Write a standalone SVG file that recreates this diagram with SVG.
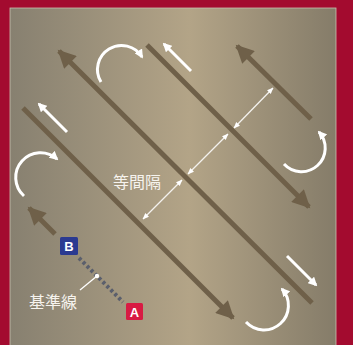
<svg xmlns="http://www.w3.org/2000/svg" width="353" height="345" viewBox="0 0 353 345">
<defs>
<linearGradient id="bg" x1="0" y1="0" x2="1" y2="0">
<stop offset="0" stop-color="#878070"/>
<stop offset="0.55" stop-color="#b3a487"/>
<stop offset="1" stop-color="#857c69"/>
</linearGradient>
<marker id="bh" viewBox="0 0 10 10" refX="9" refY="5" markerWidth="4" markerHeight="3.6" orient="auto-start-reverse" markerUnits="strokeWidth">
<path d="M0,0 L10,5 L0,10 z" fill="#6f6049"/>
</marker>
<marker id="wh" viewBox="0 0 10 10" refX="8" refY="5" markerWidth="3" markerHeight="3" orient="auto-start-reverse" markerUnits="strokeWidth">
<path d="M0,0 L10,5 L0,10 z" fill="#fff"/>
</marker>
<marker id="th" viewBox="0 0 10 10" refX="9" refY="5" markerWidth="5" markerHeight="5" orient="auto-start-reverse" markerUnits="strokeWidth">
<path d="M0,1 L10,5 L0,9 z" fill="#fff"/>
</marker>
</defs>
<style>
.road{stroke:#6f6049;stroke-width:5;fill:none}
.wa{stroke:#fff;stroke-width:3;fill:none;stroke-linecap:butt}
.th{stroke:#f4f2ee;stroke-width:1.3;fill:none}
.lbl{font-family:"Noto Sans CJK JP","Noto Sans CJK SC",sans-serif;font-size:16px;fill:#f6f3ee}
.box{font-family:"Liberation Sans",Arial,sans-serif;font-weight:bold;font-size:13px;fill:#fff;text-anchor:middle}
</style>
<rect x="0" y="0" width="353" height="345" fill="#a30b2f"/>
<rect x="10" y="8" width="326" height="340" fill="url(#bg)" stroke="#c9c0ae" stroke-width="0.8"/>
<g id="connectors">
<line class="road" x1="23" y1="108" x2="233" y2="318" marker-end="url(#bh)"/>
<line class="road" x1="312" y1="303" x2="59" y2="51" marker-end="url(#bh)"/>
<line class="road" x1="147" y1="45" x2="309" y2="207" marker-end="url(#bh)"/>
<line class="road" x1="311" y1="119" x2="237" y2="46" marker-end="url(#bh)"/>
<line class="road" x1="55" y1="234" x2="29" y2="208" marker-end="url(#bh)"/>
<line class="wa" x1="191" y1="71" x2="164" y2="44" marker-end="url(#wh)"/>
<line class="wa" x1="67" y1="132" x2="39" y2="104" marker-end="url(#wh)"/>
<line class="wa" x1="287" y1="256" x2="316" y2="285" marker-end="url(#wh)"/>
<path class="wa" d="M101,82 A23,23 0 0 1 142,57" marker-end="url(#wh)"/>
<path class="wa" d="M24,196 A21,21 0 0 1 57,159" marker-end="url(#wh)"/>
<path class="wa" d="M284,164 A22,22 0 0 0 319,132" marker-end="url(#wh)"/>
<path class="wa" d="M246,322 A22,22 0 0 0 282,289" marker-end="url(#wh)"/>
<line class="th" x1="143" y1="219" x2="182" y2="180" marker-start="url(#th)" marker-end="url(#th)"/>
<line class="th" x1="188" y1="174" x2="228" y2="134" marker-start="url(#th)" marker-end="url(#th)"/>
<line class="th" x1="234" y1="128" x2="273" y2="88" marker-start="url(#th)" marker-end="url(#th)"/>
<line x1="79" y1="258" x2="123" y2="302" stroke="#5b5f6c" stroke-width="4" stroke-dasharray="3,2.6"/>
<line x1="80" y1="290" x2="97" y2="276" stroke="#fff" stroke-width="1.3"/>
<circle cx="97" cy="276" r="2.2" fill="#fff"/>
</g>
<g id="label-spacing"><text class="lbl" x="113" y="188">等間隔</text></g>
<g id="label-baseline"><text class="lbl" x="29" y="308">基準線</text></g>
<g id="node-B"><rect x="60" y="237" width="18" height="18" rx="1.5" fill="#2b3a91"/><text class="box" x="69" y="251">B</text></g>
<g id="node-A"><rect x="126" y="303" width="17" height="17" rx="1.5" fill="#d81a43"/><text class="box" x="134.5" y="316.5">A</text></g>
</svg>
